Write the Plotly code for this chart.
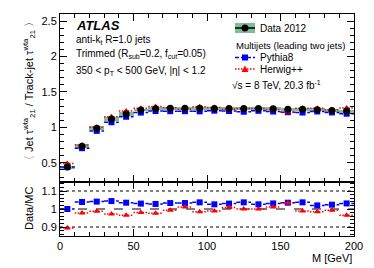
import plotly.graph_objects as go

# ---------------- data ----------------
mass_centres = [5, 15, 25, 35, 45, 55, 65, 75, 85, 95,
                105, 115, 125, 135, 145, 155, 165, 175, 185, 195]
bin_width = 10

data_vals = [0.440, 0.735, 0.990, 1.120, 1.190, 1.245, 1.265, 1.270, 1.270, 1.272,
             1.268, 1.268, 1.266, 1.266, 1.262, 1.258, 1.255, 1.250, 1.240, 1.230]
data_syst = [0.020, 0.025, 0.025, 0.025, 0.022, 0.020, 0.020, 0.020, 0.020, 0.020,
             0.020, 0.020, 0.020, 0.020, 0.020, 0.020, 0.020, 0.020, 0.020, 0.020]
data_stat = [0.010, 0.006, 0.005, 0.005, 0.005, 0.005, 0.005, 0.005, 0.005, 0.005,
             0.005, 0.005, 0.005, 0.005, 0.005, 0.005, 0.006, 0.006, 0.006, 0.007]

pythia_vals = [0.440, 0.707, 0.951, 1.073, 1.150, 1.209, 1.231, 1.229, 1.229, 1.227,
               1.236, 1.231, 1.221, 1.234, 1.224, 1.215, 1.210, 1.225, 1.211, 1.193]
herwig_vals = [0.492, 0.752, 1.003, 1.152, 1.233, 1.269, 1.296, 1.279, 1.256, 1.291,
               1.282, 1.257, 1.266, 1.266, 1.248, 1.218, 1.269, 1.269, 1.249, 1.275]
mc_stat = [0.008, 0.006, 0.006, 0.006, 0.006, 0.006, 0.006, 0.006, 0.006, 0.006,
           0.006, 0.006, 0.006, 0.006, 0.006, 0.006, 0.006, 0.006, 0.006, 0.008]

ratio_pythia = [1.000, 1.039, 1.041, 1.044, 1.035, 1.030, 1.028, 1.033, 1.033, 1.037,
                1.026, 1.030, 1.037, 1.026, 1.031, 1.035, 1.037, 1.020, 1.024, 1.031]
ratio_herwig = [0.894, 0.978, 0.987, 0.972, 0.965, 0.981, 0.976, 0.993, 1.011, 0.985,
                0.989, 1.009, 1.000, 1.000, 1.011, 1.033, 0.989, 0.985, 0.993, 0.965]
ratio_err = [0.008, 0.005, 0.005, 0.005, 0.005, 0.005, 0.005, 0.005, 0.005, 0.005,
             0.005, 0.005, 0.005, 0.005, 0.006, 0.006, 0.006, 0.006, 0.007, 0.008]

x_ticks = [0, 50, 100, 150, 200]
y_ticks_top = [0.5, 1, 1.5, 2, 2.5]
y_ticks_ratio = [0.9, 1, 1.1]

# ---------------- style ----------------
FONT = "Liberation Sans, Arial, sans-serif"
BLUE = "#0000ff"
RED = "#ff0000"
GREEN = "rgba(105,178,132,0.85)"
BLUE_DASH = "4px,2px"
RED_DOT = "1.5px,1.5px"


def steps(centres, values):
    xs, ys = [], []
    for c, v in zip(centres, values):
        xs += [c - bin_width / 2, c + bin_width / 2, None]
        ys += [v, v, None]
    return xs, ys


fig = go.Figure()

# data systematic band
fig.add_trace(go.Bar(x=mass_centres, y=[2 * s for s in data_syst],
                     base=[d - s for d, s in zip(data_vals, data_syst)],
                     width=bin_width, marker=dict(color=GREEN, line=dict(width=0)),
                     xaxis="x", yaxis="y", showlegend=False))

# Pythia8 (top)
sx, sy = steps(mass_centres, pythia_vals)
fig.add_trace(go.Scatter(x=sx, y=sy, mode="lines", line=dict(color=BLUE, width=1.5, dash=BLUE_DASH),
                         xaxis="x", yaxis="y", showlegend=False))
fig.add_trace(go.Scatter(x=mass_centres, y=pythia_vals, mode="markers",
                         marker=dict(symbol="square", size=6, color=BLUE),
                         error_y=dict(type="data", array=mc_stat, color=BLUE, thickness=1, width=0),
                         xaxis="x", yaxis="y", showlegend=False))
# Herwig++ (top)
sx, sy = steps(mass_centres, herwig_vals)
fig.add_trace(go.Scatter(x=sx, y=sy, mode="lines", line=dict(color=RED, width=1.5, dash=RED_DOT),
                         xaxis="x", yaxis="y", showlegend=False))
fig.add_trace(go.Scatter(x=mass_centres, y=herwig_vals, mode="markers",
                         marker=dict(symbol="triangle-up", size=6, color=RED),
                         error_y=dict(type="data", array=mc_stat, color=RED, thickness=1, width=0),
                         xaxis="x", yaxis="y", showlegend=False))
# Data
fig.add_trace(go.Scatter(x=mass_centres, y=data_vals, mode="markers",
                         marker=dict(symbol="circle", size=7, color="black"),
                         error_y=dict(type="data", array=data_stat, color="black", thickness=1, width=0),
                         xaxis="x", yaxis="y", showlegend=False))

# Ratio panel
sx, sy = steps(mass_centres, ratio_pythia)
fig.add_trace(go.Scatter(x=sx, y=sy, mode="lines", line=dict(color=BLUE, width=1.5, dash=BLUE_DASH),
                         xaxis="x2", yaxis="y2", showlegend=False))
fig.add_trace(go.Scatter(x=mass_centres, y=ratio_pythia, mode="markers",
                         marker=dict(symbol="square", size=6, color=BLUE),
                         error_y=dict(type="data", array=ratio_err, color=BLUE, thickness=1, width=0),
                         xaxis="x2", yaxis="y2", showlegend=False))
sx, sy = steps(mass_centres, ratio_herwig)
fig.add_trace(go.Scatter(x=sx, y=sy, mode="lines", line=dict(color=RED, width=1.5, dash=RED_DOT),
                         xaxis="x2", yaxis="y2", showlegend=False))
fig.add_trace(go.Scatter(x=mass_centres, y=ratio_herwig, mode="markers",
                         marker=dict(symbol="triangle-up", size=6, color=RED),
                         error_y=dict(type="data", array=ratio_err, color=RED, thickness=1, width=0),
                         xaxis="x2", yaxis="y2", showlegend=False))

# reference lines in ratio panel
for yv, dash in [(1.1, "dot"), (1.0, "dash"), (0.9, "dot")]:
    fig.add_shape(type="line", xref="x2 domain", yref="y2", x0=0, x1=1, y0=yv, y1=yv,
                  line=dict(color="black", width=1, dash=dash), layer="below")

# ---------------- layout geometry ----------------
OFF = 8  # page body margin
W, H = 366, 260
ML, MR, MT, MB = 52, 20, 6, 32
PW, PH = W - ML - MR, H - MT - MB
split = 54 / PH


def px(xp):
    return (xp - OFF - ML) / PW


def py(yp):
    return (OFF + H - MB - yp) / PH


axis_common = dict(showline=True, linecolor="black", linewidth=1, mirror="allticks",
                   ticks="inside", tickcolor="black", showgrid=False, zeroline=False,
                   tickfont=dict(family=FONT, size=11, color="black"))

fig.update_layout(
    width=W, height=H, margin=dict(l=ML, r=MR, t=MT, b=MB),
    paper_bgcolor="white", plot_bgcolor="white", bargap=0,
    font=dict(family=FONT, color="black"),
    xaxis=dict(domain=[0, 1], range=[0, 200], anchor="y", tickvals=x_ticks, showticklabels=False,
               ticklen=7, minor=dict(dtick=10, tick0=0, ticklen=4, ticks="inside", tickcolor="black"),
               **axis_common),
    yaxis=dict(domain=[split, 1], range=[0.23, 2.6], anchor="x", tickvals=y_ticks_top,
               ticktext=["0.5", "1", "1.5", "2", "2.5"],
               ticklen=7, minor=dict(dtick=0.1, tick0=0, ticklen=4, ticks="inside", tickcolor="black"),
               **axis_common),
    xaxis2=dict(domain=[0, 1], range=[0, 200], anchor="y2", tickvals=x_ticks,
                ticklen=7, minor=dict(dtick=10, tick0=0, ticklen=4, ticks="inside", tickcolor="black"),
                **axis_common),
    yaxis2=dict(domain=[0, split], range=[0.85, 1.15], anchor="x2", tickvals=y_ticks_ratio,
                ticktext=["0.9", "1", "1.1"],
                ticklen=7, minor=dict(dtick=0.02, tick0=0, ticklen=4, ticks="inside", tickcolor="black"),
                **axis_common),
)

ann = []
txt = dict(family=FONT, size=10, color="black")
# axis titles
ann.append(dict(text="〈 Jet τ<sup>wta</sup><sub>21</sub> / Track-jet τ<sup>wta</sup><sub>21</sub> 〉",
                x=px(29), y=1, xref="paper", yref="paper", xanchor="center", yanchor="top",
                textangle=-90, showarrow=False, font=dict(family=FONT, size=11)))
ann.append(dict(text="Data/MC", x=px(29), y=py(209), xref="paper", yref="paper",
                xanchor="center", yanchor="middle", textangle=-90, showarrow=False,
                font=dict(family=FONT, size=11)))
ann.append(dict(text="M [GeV]", x=1, y=py(258), xref="paper", yref="paper",
                xanchor="right", yanchor="middle", showarrow=False, font=dict(family=FONT, size=11)))
# ATLAS labels
ann.append(dict(text="<b><i>ATLAS</i></b>", x=px(74), y=py(25), xref="paper", yref="paper",
                xanchor="left", yanchor="middle", showarrow=False, font=dict(family=FONT, size=13)))
ann.append(dict(text="anti-k<sub>t</sub> R=1.0 jets", x=px(74), y=py(40), xref="paper", yref="paper",
                xanchor="left", yanchor="middle", showarrow=False, font=txt))
ann.append(dict(text="Trimmed (R<sub>sub</sub>=0.2, f<sub>cut</sub>=0.05)", x=px(74), y=py(54),
                xref="paper", yref="paper", xanchor="left", yanchor="middle", showarrow=False, font=txt))
ann.append(dict(text="350 < p<sub>T</sub> < 500 GeV, |η| < 1.2", x=px(74), y=py(71),
                xref="paper", yref="paper", xanchor="left", yanchor="middle", showarrow=False, font=txt))
# legend texts
ann.append(dict(text="Data 2012", x=px(258), y=py(28), xref="paper", yref="paper",
                xanchor="left", yanchor="middle", showarrow=False, font=txt))
ann.append(dict(text="Multijets (leading two jets)", x=px(234), y=py(45), xref="paper", yref="paper",
                xanchor="left", yanchor="middle", showarrow=False, font=dict(family=FONT, size=9.5)))
ann.append(dict(text="Pythia8", x=px(258), y=py(57.5), xref="paper", yref="paper",
                xanchor="left", yanchor="middle", showarrow=False, font=txt))
ann.append(dict(text="Herwig++", x=px(258), y=py(69), xref="paper", yref="paper",
                xanchor="left", yanchor="middle", showarrow=False, font=txt))
ann.append(dict(text="√s = 8 TeV, 20.3 fb<sup>-1</sup>", x=px(230), y=py(85), xref="paper", yref="paper",
                xanchor="left", yanchor="middle", showarrow=False, font=txt))
fig.update_layout(annotations=ann)

# legend symbols (decoration, paper coordinates)
fig.add_shape(type="rect", xref="paper", yref="paper", x0=px(235), x1=px(255), y0=py(33), y1=py(23),
              fillcolor=GREEN, line=dict(width=0))
fig.add_shape(type="line", xref="paper", yref="paper", x0=px(235), x1=px(255), y0=py(28), y1=py(28),
              line=dict(color="black", width=1.5))
fig.add_shape(type="circle", xref="paper", yref="paper", x0=px(241.5), x1=px(248.5),
              y0=py(31.5), y1=py(24.5), fillcolor="black", line=dict(width=0))
fig.add_shape(type="line", xref="paper", yref="paper", x0=px(235), x1=px(255), y0=py(57.5), y1=py(57.5),
              line=dict(color=BLUE, width=1.5, dash=BLUE_DASH))
fig.add_shape(type="rect", xref="paper", yref="paper", x0=px(242), x1=px(248), y0=py(60.5), y1=py(54.5),
              fillcolor=BLUE, line=dict(width=0))
fig.add_shape(type="line", xref="paper", yref="paper", x0=px(235), x1=px(255), y0=py(69), y1=py(69),
              line=dict(color=RED, width=1.5, dash=RED_DOT))
fig.add_shape(type="path", xref="paper", yref="paper",
              path=f"M {px(241.5)} {py(72)} L {px(248.5)} {py(72)} L {px(245)} {py(65.5)} Z",
              fillcolor=RED, line=dict(width=0))

fig.write_html("out.html")
